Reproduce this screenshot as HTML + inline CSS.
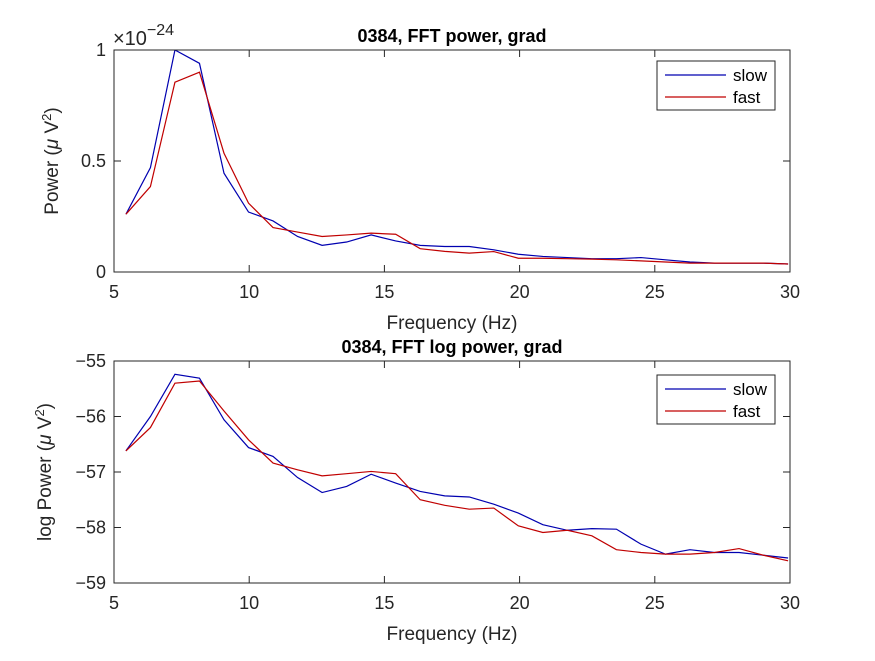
<!DOCTYPE html>
<html><head><meta charset="utf-8"><style>
body{margin:0;background:#fff;}
svg text{font-family:"Liberation Sans",sans-serif;}
</style></head><body>
<svg id="fig" width="875" height="656" xmlns="http://www.w3.org/2000/svg"></svg>
<script>
const freqStart = 5.44, freqStep = 0.907;
const powerSlow = [0.26,0.47,1.0,0.94,0.445,0.27,0.23,0.16,0.12,0.135,0.167,0.14,0.12,0.115,0.115,0.1,0.08,0.07,0.065,0.06,0.06,0.065,0.055,0.045,0.04,0.04,0.04,0.036];
const powerFast = [0.26,0.385,0.855,0.9,0.535,0.31,0.2,0.18,0.16,0.167,0.175,0.17,0.105,0.093,0.085,0.092,0.062,0.062,0.06,0.058,0.055,0.05,0.045,0.04,0.04,0.04,0.04,0.036];
const logSlow = [-56.62,-56.0,-55.24,-55.31,-56.06,-56.56,-56.72,-57.1,-57.37,-57.26,-57.04,-57.2,-57.35,-57.43,-57.45,-57.58,-57.74,-57.95,-58.05,-58.02,-58.03,-58.3,-58.48,-58.4,-58.45,-58.45,-58.5,-58.55];
const logFast = [-56.62,-56.2,-55.4,-55.36,-55.9,-56.42,-56.84,-56.96,-57.07,-57.03,-56.99,-57.03,-57.5,-57.6,-57.67,-57.65,-57.97,-58.09,-58.05,-58.15,-58.4,-58.45,-58.48,-58.48,-58.45,-58.38,-58.5,-58.6];
const xTicks = [5,10,15,20,25,30];
const yTicksTop = [0,0.5,1], yTickLabelsTop = ["0","0.5","1"];
const yTicksBot = [-59,-58,-57,-56,-55], yTickLabelsBot = ["\u221259","\u221258","\u221257","\u221256","\u221255"];

const NS="http://www.w3.org/2000/svg", svg=document.getElementById('fig');
function mk(t,a,p){const e=document.createElementNS(NS,t);for(const k in a)e.setAttribute(k,a[k]);(p||svg).appendChild(e);return e;}
const L=114,R=790;
const xs=f=>L+(f-5)/25*(R-L);
const freqs=powerSlow.map((_,i)=>freqStart+freqStep*i);

function panel(name,top,bot,y0,y1,yt,ytl,s1,s2,title,ylab,legY){
  const g=mk('g',{});
  
  
  const ys=v=>bot-(v-y0)/(y1-y0)*(bot-top);
  const cp=mk('clipPath',{id:'c'+name},g);mk('rect',{x:L,y:top,width:R-L,height:bot-top},cp);
  [[s1,'#0000b0','series-slow'],[s2,'#c00000','series-fast']].forEach(([d,c,n])=>{
    const pl=mk('polyline',{points:d.map((v,i)=>xs(freqs[i])+','+ys(v)).join(' '),fill:'none',stroke:c,'stroke-width':1.2,'clip-path':'url(#c'+name+')'},g);
    
    
  });
  const bx=mk('rect',{x:L,y:top,width:R-L,height:bot-top,fill:'none',stroke:'#262626','stroke-width':1},g);
  
  
  xTicks.forEach(t=>{const x=xs(t);
    mk('line',{x1:x,x2:x,y1:bot,y2:bot-7,stroke:'#262626'},g);mk('line',{x1:x,x2:x,y1:top,y2:top+7,stroke:'#262626'},g);
    const tx=mk('text',{x:x,y:bot+26,'text-anchor':'middle','font-size':18,fill:'#262626'},g);tx.textContent=t;
    
    });
  yt.forEach((t,i)=>{const y=ys(t);
    mk('line',{x1:L,x2:L+7,y1:y,y2:y,stroke:'#262626'},g);mk('line',{x1:R,x2:R-7,y1:y,y2:y,stroke:'#262626'},g);
    const tx=mk('text',{x:L-8,y:y+6,'text-anchor':'end','font-size':18,fill:'#262626'},g);tx.textContent=ytl[i];
    
    });
  const ti=mk('text',{x:452,y:top-8,'text-anchor':'middle','font-size':18,'font-weight':'bold',fill:'#000'},g);ti.textContent=title;
  
  
  const xl=mk('text',{x:452,y:bot+57,'text-anchor':'middle','font-size':19,fill:'#262626'},g);xl.textContent='Frequency (Hz)';
  
  
  const yl=mk('text',{transform:`translate(${name==='top-panel'?58:51},${(top+bot)/2}) rotate(-90)`,'text-anchor':'middle','font-size':19,fill:'#262626'},g);
  yl.innerHTML=ylab+' (<tspan font-style="italic">\u03bc</tspan> V<tspan dy="-7" font-size="13">2</tspan><tspan dy="7">)</tspan>';
  
  
  const lg=mk('g',{},g);
  
  
  mk('rect',{x:657,y:legY,width:118,height:49,fill:'#fff',stroke:'#262626'},lg);
  [['slow','#0000b0'],['fast','#c00000']].forEach(([n,c],i)=>{const yy=legY+14+i*22;
    mk('line',{x1:665,x2:726,y1:yy,y2:yy,stroke:c,'stroke-width':1.2},lg);
    const t=mk('text',{x:733,y:yy+6,'font-size':17,fill:'#000'},lg);t.textContent=n;
    
    });
}
panel('top-panel',50,272,0,1,yTicksTop,yTickLabelsTop,powerSlow,powerFast,'0384, FFT power, grad','Power',61);
panel('bottom-panel',361,583,-59,-55,yTicksBot,yTickLabelsBot,logSlow,logFast,'0384, FFT log power, grad','log Power',375);
const ex=mk('text',{x:113,y:45,'font-size':20,fill:'#262626'});
ex.innerHTML='\u00d710<tspan dy="-10" font-size="16">\u221224</tspan>';


</script>
</body></html>
